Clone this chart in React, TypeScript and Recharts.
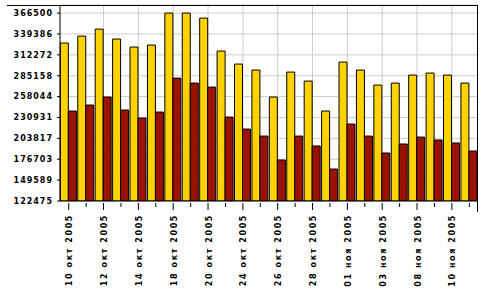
import React from 'react';
import { BarChart, Bar, XAxis, YAxis, CartesianGrid } from 'recharts';

const dates = [
  '10 окт 2005', '11 окт 2005', '12 окт 2005', '13 окт 2005', '14 окт 2005', '17 окт 2005',
  '18 окт 2005', '19 окт 2005', '20 окт 2005', '21 окт 2005', '24 окт 2005', '25 окт 2005',
  '26 окт 2005', '27 окт 2005', '28 окт 2005', '31 окт 2005', '01 ноя 2005', '02 ноя 2005',
  '03 ноя 2005', '07 ноя 2005', '08 ноя 2005', '09 ноя 2005', '10 ноя 2005', '11 ноя 2005',
];

const seriesA = [
  327600, 336600, 345700, 332800, 322400, 325000, 366500, 366500, 360000, 317200, 300300, 292500,
  257500, 289900, 278200, 239300, 302900, 292500, 273000, 275600, 286000, 288600, 286000, 275600,
];

const seriesB = [
  239300, 247100, 257500, 240600, 230200, 238000, 282100, 275600, 270400, 231500, 215900, 206800,
  175700, 206800, 193900, 164000, 222400, 206800, 184800, 196500, 205500, 201700, 197800, 187400,
];

const yTicks = [122475, 149589, 176703, 203817, 230931, 258044, 285158, 312272, 339386, 366500];

const data = dates.map((d, i) => ({ date: d, a: seriesA[i], b: seriesB[i] }));

const FONT = '"DejaVu Sans", Verdana, sans-serif';

const XTick = (props: any) => {
  const { x, y, index, payload } = props;
  const idx = typeof index === 'number' ? index : payload?.index ?? 0;
  const labelled = idx % 2 === 0;
  return (
    <g>
      <line x1={x} x2={x} y1={y} y2={y + (labelled ? 7 : 4)} stroke="#000" strokeWidth={1} />
      {labelled && (
        <text
          x={x + 3.5}
          y={y + 11}
          transform={`rotate(-90, ${x + 3.5}, ${y + 11})`}
          textAnchor="end"
          fontSize={8}
          fontWeight="bold"
          fontFamily={FONT}
          letterSpacing={1.6}
          fill="#000"
        >
          {payload.value}
        </text>
      )}
    </g>
  );
};

const vGen = (props: any) => {
  const off = props.offset || {};
  const left = off.left ?? 60;
  const w = off.width ?? 418;
  const n = dates.length;
  const out: number[] = [];
  for (let i = 2; i < n; i += 2) out.push(left + ((i + 0.5) * w) / n);
  return out;
};

export default function App() {
  return (
    <div style={{ position: 'absolute', left: 0, top: 0, width: 493, height: 307, background: '#fff' }}>
      <BarChart
        width={493}
        height={307}
        data={data}
        margin={{ top: 5, right: 15, bottom: 0, left: 0 }}
        barCategoryGap="2%"
        barGap={0}
      >
        <CartesianGrid stroke="#cccccc" strokeWidth={1} verticalCoordinatesGenerator={vGen} />
        <XAxis
          dataKey="date"
          interval={0}
          height={106}
          tickSize={0}
          tickLine={false}
          axisLine={{ stroke: '#000' }}
          tick={<XTick />}
        />
        <YAxis
          domain={[122475, 377000]}
          allowDataOverflow
          ticks={yTicks}
          interval={0}
          width={60}
          tickSize={3}
          tickMargin={4}
          axisLine={{ stroke: '#000' }}
          tickLine={{ stroke: '#000' }}
          tick={{ fontSize: 8, fontWeight: 'bold', fontFamily: FONT, fill: '#000', letterSpacing: 1 }}
        />
        <Bar dataKey="a" fill="#FFD200" stroke="#000" strokeWidth={1} isAnimationActive={false} />
        <Bar dataKey="b" fill="#9C1200" stroke="#000" strokeWidth={1} isAnimationActive={false} />
      </BarChart>
      <div style={{ position: 'absolute', left: 7, top: 5, width: 471, height: 1, background: '#000' }} />
      <div style={{ position: 'absolute', left: 477, top: 5, width: 1, height: 207, background: '#000' }} />
    </div>
  );
}
